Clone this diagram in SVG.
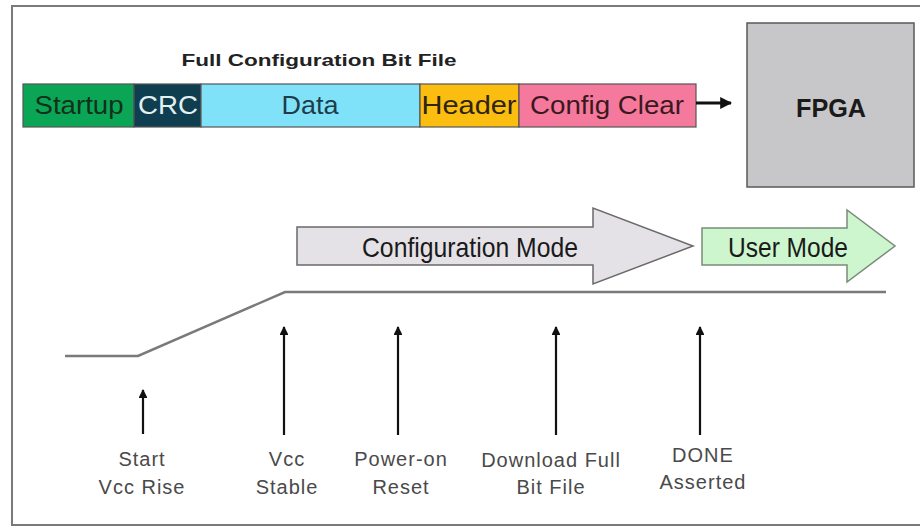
<svg xmlns="http://www.w3.org/2000/svg" width="920" height="528" viewBox="0 0 920 528">
<style>
.lbl{font-family:"Liberation Sans",Arial,sans-serif;font-size:20px;fill:#4a4a4a;text-anchor:middle;letter-spacing:1px}
.seg{stroke:#555;stroke-width:1.2}
.bt{font-family:"Liberation Sans",Arial,sans-serif;font-size:26px;text-anchor:middle}
.tick{stroke:#111;stroke-width:2.2;fill:none}
</style>
<defs>
<marker id="ah" viewBox="0 0 10 10" refX="9" refY="5" markerWidth="4" markerHeight="4" orient="auto">
<path d="M0,0 L10,5 L0,10 z" fill="#111"/>
</marker>
</defs>
<rect x="12" y="6" width="930" height="519" fill="#fff" stroke="#7a7a7a" stroke-width="2"/>

<g id="bitfile">
<text x="319" y="66" font-family="'Liberation Sans',Arial,sans-serif" font-size="17" font-weight="bold" fill="#222" text-anchor="middle" textLength="275" lengthAdjust="spacingAndGlyphs">Full Configuration Bit File</text>
<g id="startup"><rect class="seg" x="23" y="84" width="111" height="43" fill="#0ba655"/><text class="bt" x="79" y="114" fill="#13301c" textLength="89" lengthAdjust="spacingAndGlyphs">Startup</text></g>
<g id="crc"><rect class="seg" x="134" y="84" width="67" height="43" fill="#0e3e50"/><text class="bt" x="168" y="114" fill="#e4f0f2" textLength="60" lengthAdjust="spacingAndGlyphs">CRC</text></g>
<g id="data"><rect class="seg" x="201" y="84" width="219" height="43" fill="#80e2f9"/><text class="bt" x="310" y="114" fill="#203c4a" textLength="57" lengthAdjust="spacingAndGlyphs">Data</text></g>
<g id="header"><rect class="seg" x="420" y="84" width="99" height="43" fill="#fbbd10"/><text class="bt" x="469" y="114" fill="#2e2410" textLength="95" lengthAdjust="spacingAndGlyphs">Header</text></g>
<g id="configclear"><rect class="seg" x="519" y="84" width="177" height="43" fill="#f5799d"/><text class="bt" x="607" y="114" fill="#3a1820" textLength="154" lengthAdjust="spacingAndGlyphs">Config Clear</text></g>
</g>

<g id="fpga">
<rect x="747" y="23" width="167" height="164" fill="#c7c6c9" stroke="#5a5a5a" stroke-width="1.5"/>
<text x="831" y="117" font-family="'Liberation Sans',Arial,sans-serif" font-size="25" font-weight="bold" fill="#1a1a1a" text-anchor="middle" textLength="70" lengthAdjust="spacingAndGlyphs">FPGA</text>
</g>

<g id="configmode">
<path d="M297,227 H593 V208 L693,246 L593,284 V265 H297 Z" fill="#e4e2e7" stroke="#6a6a6a" stroke-width="1.5"/>
<text x="470" y="257" font-family="'Liberation Sans',Arial,sans-serif" font-size="28" fill="#1a1a1a" text-anchor="middle" textLength="216" lengthAdjust="spacingAndGlyphs">Configuration Mode</text>
</g>
<g id="usermode">
<path d="M702,228 H847 V210 L895,246 L847,282 V265 H702 Z" fill="#cdf6cf" stroke="#7a8a7a" stroke-width="1.5"/>
<text x="788" y="257" font-family="'Liberation Sans',Arial,sans-serif" font-size="28" fill="#1a1a1a" text-anchor="middle" textLength="120" lengthAdjust="spacingAndGlyphs">User Mode</text>
</g>

<g id="vcc-curve">
<path d="M65,356 H138 L285,292 H886" fill="none" stroke="#7a7a7a" stroke-width="2.5"/>
</g>

<g id="connectors">
<line class="tick" x1="143" y1="434" x2="143" y2="390" marker-end="url(#ah)"/>
<line class="tick" x1="284" y1="435" x2="284" y2="327" marker-end="url(#ah)"/>
<line class="tick" x1="398" y1="435" x2="398" y2="327" marker-end="url(#ah)"/>
<line class="tick" x1="556" y1="435" x2="556" y2="327" marker-end="url(#ah)"/>
<line class="tick" x1="700" y1="435" x2="700" y2="327" marker-end="url(#ah)"/>
</g>

<g id="lbl-start"><text class="lbl" x="142" y="466">Start</text><text class="lbl" x="142" y="494">Vcc Rise</text></g>
<g id="lbl-stable"><text class="lbl" x="287" y="466">Vcc</text><text class="lbl" x="287" y="494">Stable</text></g>
<g id="lbl-por"><text class="lbl" x="401" y="466">Power-on</text><text class="lbl" x="401" y="494">Reset</text></g>
<g id="lbl-download"><text class="lbl" x="551" y="467">Download Full</text><text class="lbl" x="551" y="494">Bit File</text></g>
<g id="lbl-done"><text class="lbl" x="703" y="462">DONE</text><text class="lbl" x="703" y="489">Asserted</text></g>

<g id="bit-arrow">
<line x1="696" y1="103" x2="731" y2="103" stroke="#111" stroke-width="3" marker-end="url(#ah)"/>
</g>
</svg>
